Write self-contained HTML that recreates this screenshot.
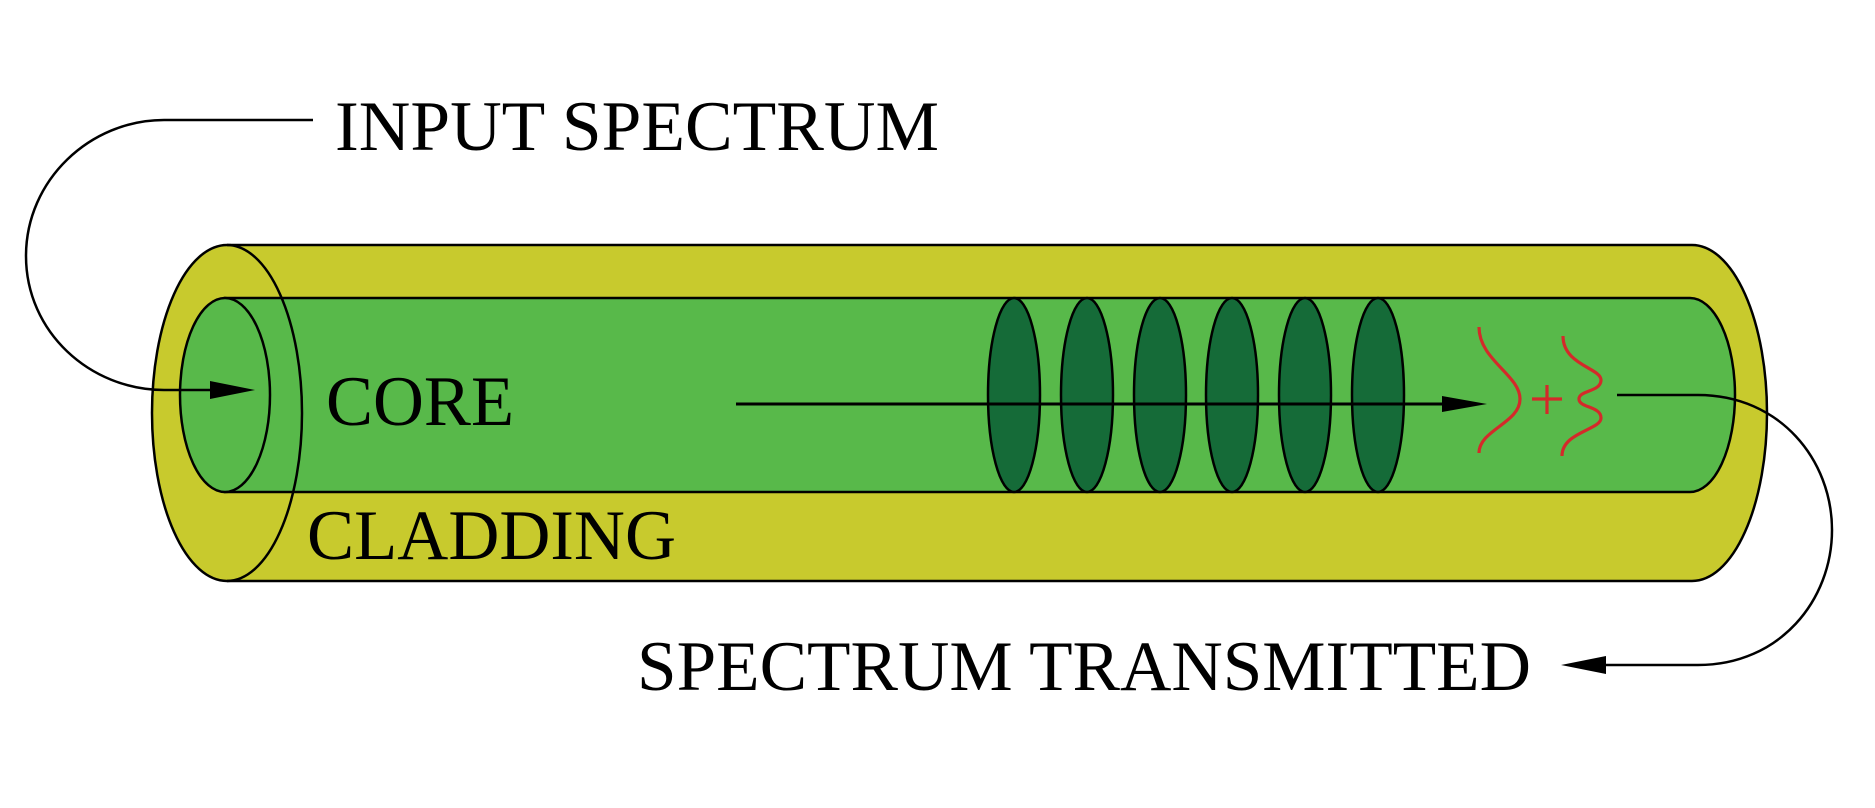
<!DOCTYPE html>
<html><head><meta charset="utf-8"><style>
html,body{margin:0;padding:0;background:#fff;}
svg{display:block;}
text{font-family:"Liberation Serif",serif;fill:#000;}
</style></head><body>
<svg width="1875" height="808" viewBox="0 0 1875 808">
<g>
<path d="M227,245 H1692 A75,168 0 0 1 1692,581 H227 A75,168 0 0 1 227,245 Z" fill="#c8ca2d" stroke="#000" stroke-width="2.5"/>
</g>
<g>
<path d="M225,298 H1690 A45,97 0 0 1 1690,492 H225 Z" fill="#58b94a" stroke="#000" stroke-width="2.5"/>
<ellipse cx="225" cy="395" rx="45" ry="97" fill="#58b94a" stroke="#000" stroke-width="2.5"/>
</g>
<path d="M227,245 A75,168 0 0 1 227,581" fill="none" stroke="#000" stroke-width="2.5"/>
<g fill="#156b38" stroke="#000" stroke-width="2.5">
<ellipse cx="1014" cy="395" rx="26" ry="97"/>
<ellipse cx="1087" cy="395" rx="26" ry="97"/>
<ellipse cx="1160" cy="395" rx="26" ry="97"/>
<ellipse cx="1232" cy="395" rx="26" ry="97"/>
<ellipse cx="1305" cy="395" rx="26" ry="97"/>
<ellipse cx="1378" cy="395" rx="26" ry="97"/>
</g>
<line x1="736" y1="404" x2="1450" y2="404" stroke="#000" stroke-width="3"/>
<path d="M1442,396 L1487,404 L1442,412 Z" fill="#000"/>
<path d="M313,120 H164 C90,120 26,180 26,256 C26,332 90,390 164,390 H215" fill="none" stroke="#000" stroke-width="2.5"/>
<path d="M210,381 L255,390 L210,399 Z" fill="#000"/>
<path d="M1617,395 H1698 C1780,395 1832,460 1832,530 C1832,600 1780,665 1698,665 H1600" fill="none" stroke="#000" stroke-width="2.5"/>
<path d="M1606,656 L1561,665 L1606,674 Z" fill="#000"/>
<g stroke="#d42a2a" stroke-width="3.2" fill="none">
<path d="M1479,327 C1479,360 1520,375 1520,399 C1520,423 1479,430 1479,453"/>
<path d="M1532,399 H1562 M1547,385 V414"/>
<path d="M1563,336 C1563,365 1601,368 1601,380 C1601,392 1579,390 1579,399 C1579,408 1601,406 1601,418 C1601,430 1562,432 1562,456"/>
</g>
<text x="335" y="150" font-size="71" textLength="604" lengthAdjust="spacingAndGlyphs">INPUT SPECTRUM</text>
<text x="326" y="425" font-size="71" textLength="188" lengthAdjust="spacingAndGlyphs">CORE</text>
<text x="307" y="559" font-size="71" textLength="369" lengthAdjust="spacingAndGlyphs">CLADDING</text>
<text x="637" y="690" font-size="71" textLength="894" lengthAdjust="spacingAndGlyphs">SPECTRUM TRANSMITTED</text>
</svg>
</body></html>
